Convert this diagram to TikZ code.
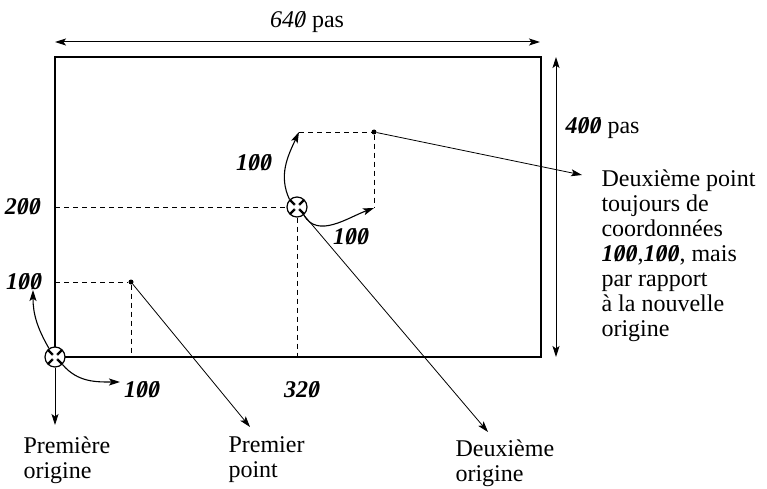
\documentclass[tikz,border=0pt]{standalone}
\usepackage{fontspec}
\setmainfont{Liberation Serif}
\usepackage{tikz}
\usetikzlibrary{arrows.meta,calc}
\newcommand{\szero}{\ooalign{0\cr\hidewidth/\hidewidth\cr}}
\newcommand{\nb}[1]{\textbf{\textit{#1}}}

\begin{document}
\begin{tikzpicture}[x=1pt,y=1pt,font=\fontsize{24}{25}\selectfont,>={Stealth[length=11pt,width=7pt,inset=2.5pt]},
        origin/.style={circle,draw,line width=1.2pt,minimum size=20pt,inner sep=0pt,fill=white,
          path picture={\draw[line width=2.4pt] (path picture bounding box.north west)--(path picture bounding box.south east)
            (path picture bounding box.north east)--(path picture bounding box.south west);
            \fill (path picture bounding box.center) circle (3.2pt);}},
        ptdot/.style={circle,fill,inner sep=0pt,minimum size=5pt},
        guide/.style={dash pattern=on 5pt off 4pt,line width=0.8pt},
        lead/.style={->,line width=0.8pt},
        turn/.style={->,line width=1.1pt}]
        \useasboundingbox (0,0) rectangle (767,488);
        % the screen
        \draw[line width=1.2pt] (55,431) rectangle (541,131);
        \coordinate (wl) at (55,446);
        \coordinate (wr) at (540,446);
        \draw[<->,line width=1pt] (wl)--(wr);
        \node (wlab) at (307,466) {\textit{64\szero} pas};
        \coordinate (ht) at (556,431);
        \coordinate (hb) at (556,131);
        \draw[<->,line width=1pt] (ht)--(hb);
        \node[anchor=west] (hlab) at (562,360) {\nb{4\szero\szero} pas};
        % origins and points
        \node[origin] (o1) at (55,131) {};
        \node[origin] (o2) at (297,281) {};
        \node[ptdot] (p1) at (131,206) {};
        \node[ptdot] (p2) at (374,356) {};
        \coordinate (a200) at (55,281);
        \coordinate (a100) at (55,206);
        \coordinate (b100) at (131,131);
        \coordinate (b320) at (297,131);
        \coordinate (c2u) at (299,356);
        \coordinate (c2r) at (374,280);
        \draw[guide] (a200)--(o2.west);
        \draw[guide] (o2.south)--(b320);
        \draw[guide] (a100)--(p1)--(b100);
        \draw[guide] (c2u)--(p2)--(c2r);
        % values
        \node (y200) at (23,281) {\nb{2\szero\szero}};
        \node (y100) at (24,206) {\nb{1\szero\szero}};
        \node (x100) at (142,98) {\nb{1\szero\szero}};
        \node (x320) at (302,98) {\nb{32\szero}};
        \node (u100) at (254,325) {\nb{1\szero\szero}};
        \node (r100) at (351,251) {\nb{1\szero\szero}};
        \coordinate (t1u) at (33,198);
        \coordinate (t1r) at (120,106);
        \draw[turn] (o1.125) to[out=120,in=-90] (t1u);
        \draw[turn] (o1.-45) to[out=-50,in=180] (t1r);
        \draw[turn] (o2.135) to[out=115,in=-115] (c2u);
        \draw[turn] (o2.-50) to[out=-60,in=200] (c2r);
        % captions
        \node[anchor=west,align=left] (cap1) at (20,28) {Première\\origine};
        \node[anchor=west,align=left] (cap2) at (225,28) {Premier\\point};
        \node[anchor=west,align=left] (cap3) at (452,25) {Deuxième\\origine};
        \node[anchor=west,align=left] (cap4) at (598,232) {Deuxième point\\toujours de\\coordonnées\\\nb{1\szero\szero},\nb{1\szero\szero}, mais\\par rapport\\à la nouvelle\\origine};
        \coordinate (e0) at (55,63);
        \coordinate (e1) at (250,61);
        \coordinate (e2) at (488,56);
        \coordinate (e3) at (582,313);
        \draw[lead] (o1)--(e0);
        \draw[lead] (p1)--(e1);
        \draw[lead] (o2)--(e2);
        \draw[lead] (p2)--(e3);
      \end{tikzpicture}
\end{document}
